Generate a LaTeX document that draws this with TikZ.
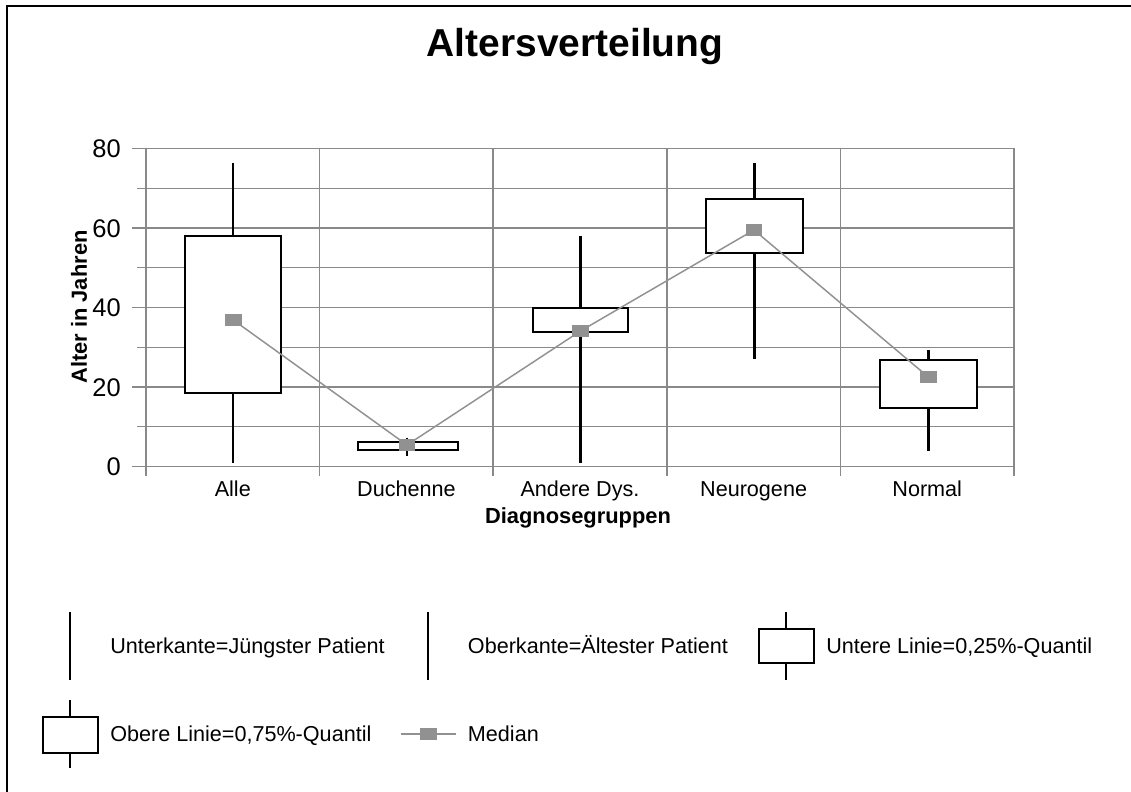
\documentclass[tikz,border=0pt]{standalone}
\usepackage{fontspec}
\setmainfont{Liberation Sans}
\definecolor{gridgray}{RGB}{137,137,137}
\definecolor{medgray}{RGB}{145,145,145}
\begin{document}
\begin{tikzpicture}[x=0.75pt,y=-0.75pt,
  gridline/.style={draw=gridgray,line width=1.1pt},
  whisk/.style={draw=black,line width=1.8pt},
  boxst/.style={draw=black,fill=white,line width=1.5pt},
  medline/.style={draw=medgray,line width=1.1pt},
  medmark/.style={rectangle,fill=medgray,draw=none,inner sep=0pt,minimum width=12.5pt,minimum height=9pt},
  lbl/.style={font=\fontsize{16.2}{19}\selectfont,inner sep=0pt},
  tick/.style={font=\fontsize{19.1}{22}\selectfont,inner sep=0pt,anchor=base east},
  bold/.style={font=\fontsize{16.4}{19}\selectfont\bfseries,inner sep=0pt}]
\useasboundingbox (0,0) rectangle (1131,792);
% frame
\draw[line width=1.5pt] (1140,6) -- (7,6) -- (7,800);
% title
\node[font=\fontsize{29.2}{34}\selectfont\bfseries,inner sep=0pt,anchor=base] (title) at (575,57) {Altersverteilung};
% grid
\foreach \v in {0,20,40,60,80}
  \draw[gridline] (132,{466.5-3.975*\v}) -- (1014,{466.5-3.975*\v});
\foreach \v in {10,30,50,70}
  \draw[gridline] (137,{466.5-3.975*\v}) -- (1014,{466.5-3.975*\v});
\foreach \i in {0,...,5}
  \draw[gridline] ({146+173.6*\i},148) -- ({146+173.6*\i},476);
% tick labels
\foreach \v in {0,20,40,60,80}
  \node[tick] (t\v) at (121,{475.6-3.975*\v}) {\v};
% category labels
\node[lbl,anchor=base] (c1) at (232.8,496.7) {Alle};
\node[lbl,anchor=base] (c2) at (406.4,496.7) {Duchenne};
\node[lbl,anchor=base] (c3) at (580,496.7) {Andere Dys.};
\node[lbl,anchor=base] (c4) at (753.6,496.7) {Neurogene};
\node[lbl,anchor=base] (c5) at (927.2,496.7) {Normal};
% axis titles
\node[bold,anchor=base] (xt) at (578,523) {Diagnosegruppen};
\node[bold,rotate=90] (yt) at (79,307) {Alter in Jahren};
% boxplots: whiskers
\draw[whisk] (233,163.3) -- (233,463.3);
\draw[whisk] (407,437.7) -- (407,455.7);
\draw[whisk] (580.5,236) -- (580.5,463.3);
\draw[whisk] (754.5,163.3) -- (754.5,359.3);
\draw[whisk] (928.3,350) -- (928.3,451);
% boxes
\draw[boxst] (185,236) rectangle (281,393.3);
\draw[boxst] (358.3,441.7) rectangle (457.7,450);
\draw[boxst] (533,307.5) rectangle (628,332);
\draw[boxst] (705.7,199.3) rectangle (803.3,252.7);
\draw[boxst] (880,360) rectangle (976.7,407.7);
% medians
\coordinate (m1) at (233.3,320);
\coordinate (m2) at (407,445);
\coordinate (m3) at (580.5,331);
\coordinate (m4) at (754,230);
\coordinate (m5) at (928.3,377);
\draw[medline] (m1) -- (m2) -- (m3) -- (m4) -- (m5);
\foreach \m in {m1,m2,m3,m4,m5}
  \node[medmark] at (\m) {};
% legend row 1
\draw[whisk] (70,612) -- (70,680);
\node[lbl,anchor=base west] (l1) at (110,653) {Unterkante=Jüngster Patient};
\draw[whisk] (428,612) -- (428,680);
\node[lbl,anchor=base west] (l2) at (467.7,653) {Oberkante=Ältester Patient};
\draw[whisk] (786,612) -- (786,680);
\draw[boxst] (758.5,629) rectangle (813.5,663.3);
\node[lbl,anchor=base west] (l3) at (826,653) {Untere Linie=0,25\%-Quantil};
% legend row 2
\draw[whisk] (70,700) -- (70,768.3);
\draw[boxst] (42.5,716.7) rectangle (97.5,753.3);
\node[lbl,anchor=base west] (l4) at (110,741) {Obere Linie=0,75\%-Quantil};
\coordinate (la) at (401,734);
\coordinate (lb) at (456,734);
\draw[medline] (la) -- (lb);
\node[medmark,minimum width=13.3pt,minimum height=9.7pt] (lm) at (428.5,734) {};
\node[lbl,anchor=base west] (l5) at (467.7,741) {Median};
\end{tikzpicture}
\end{document}
